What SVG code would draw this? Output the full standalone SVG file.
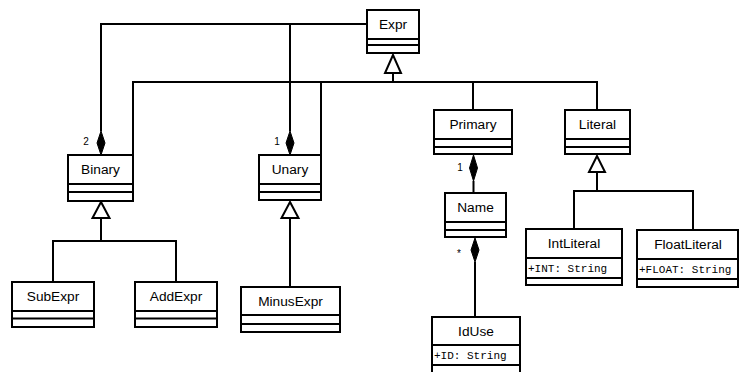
<svg xmlns="http://www.w3.org/2000/svg" width="739" height="372" viewBox="0 0 739 372">
<style>
.box{fill:#fff;stroke:#000;stroke-width:2}
.sep{stroke:#000;stroke-width:2}
.nm{font-family:"Liberation Sans",Arial,sans-serif;font-size:13.7px;text-anchor:middle;fill:#000}
.at{font-family:"Liberation Mono","Courier New",monospace;font-size:11px;fill:#000}
.ln{fill:none;stroke:#000;stroke-width:2}
.tri{fill:#fff;stroke:#000;stroke-width:2}
.dia{fill:#000;stroke:#000;stroke-width:1}
.mul{font-family:"Liberation Sans",Arial,sans-serif;font-size:10px;fill:#000;text-anchor:middle}
</style>
<rect width="739" height="372" fill="#fff"/>
<g id="connectors">
<path class="ln" d="M367,24 H101 V131"/>
<path class="ln" d="M290,24 V131"/>
<path class="ln" d="M393,73 V82"/>
<path class="ln" d="M133,155 V82 H597 V110"/>
<path class="ln" d="M321,155 V82"/>
<path class="ln" d="M473,110 V82"/>
<polygon class="tri" points="393,55 385,73 401,73"/>
<polygon class="dia" points="101,131 105,143 101,155 97,143"/>
<polygon class="dia" points="290,131 294,143 290,155 286,143"/>
<text class="mul" x="86" y="145">2</text>
<text class="mul" x="277" y="145">1</text>
<path class="ln" d="M101,218 V241 M53,282 V241 H176 V282"/>
<polygon class="tri" points="101,202 92.5,218 109.5,218"/>
<path class="ln" d="M290,218 V287"/>
<polygon class="tri" points="290,202 281.5,218 298.5,218"/>
<path class="ln" d="M597,172 V191 M574,229 V191 H693 V230"/>
<polygon class="tri" points="597,156 589,172 605,172"/>
<path class="ln" d="M473.5,181 V193"/>
<polygon class="dia" points="473.5,155 477.5,168 473.5,181 469.5,168"/>
<text class="mul" x="460" y="171">1</text>
<path class="ln" d="M475,262 V317"/>
<polygon class="dia" points="475,238 479,250 475,262 471,250"/>
<text class="mul" x="459" y="257">*</text>
</g>
<g id="Expr">
<rect class="box" x="367" y="10" width="52" height="43"/>
<line class="sep" x1="367" y1="39" x2="419" y2="39"/>
<line class="sep" x1="367" y1="45" x2="419" y2="45"/>
<text class="nm" x="393" y="29">Expr</text>
</g>
<g id="Binary">
<rect class="box" x="68" y="155" width="65" height="46"/>
<line class="sep" x1="68" y1="184" x2="133" y2="184"/>
<line class="sep" x1="68" y1="192" x2="133" y2="192"/>
<text class="nm" x="100.5" y="174">Binary</text>
</g>
<g id="Unary">
<rect class="box" x="259" y="155" width="62" height="45"/>
<line class="sep" x1="259" y1="184" x2="321" y2="184"/>
<line class="sep" x1="259" y1="192" x2="321" y2="192"/>
<text class="nm" x="290" y="174">Unary</text>
</g>
<g id="Primary">
<rect class="box" x="434" y="110" width="78" height="44"/>
<line class="sep" x1="434" y1="139" x2="512" y2="139"/>
<line class="sep" x1="434" y1="147" x2="512" y2="147"/>
<text class="nm" x="473" y="129">Primary</text>
</g>
<g id="Literal">
<rect class="box" x="565" y="110" width="65" height="44"/>
<line class="sep" x1="565" y1="139" x2="630" y2="139"/>
<line class="sep" x1="565" y1="147" x2="630" y2="147"/>
<text class="nm" x="597.5" y="129">Literal</text>
</g>
<g id="Name">
<rect class="box" x="445" y="193" width="61" height="44"/>
<line class="sep" x1="445" y1="222" x2="506" y2="222"/>
<line class="sep" x1="445" y1="230" x2="506" y2="230"/>
<text class="nm" x="475.5" y="212">Name</text>
</g>
<g id="SubExpr">
<rect class="box" x="12" y="282" width="82" height="45"/>
<line class="sep" x1="12" y1="311" x2="94" y2="311"/>
<line class="sep" x1="12" y1="318.5" x2="94" y2="318.5"/>
<text class="nm" x="53" y="301">SubExpr</text>
</g>
<g id="AddExpr">
<rect class="box" x="135" y="282" width="82" height="45"/>
<line class="sep" x1="135" y1="311" x2="217" y2="311"/>
<line class="sep" x1="135" y1="318.5" x2="217" y2="318.5"/>
<text class="nm" x="176" y="301">AddExpr</text>
</g>
<g id="MinusExpr">
<rect class="box" x="241" y="287" width="99" height="45"/>
<line class="sep" x1="241" y1="315" x2="340" y2="315"/>
<line class="sep" x1="241" y1="324" x2="340" y2="324"/>
<text class="nm" x="290.5" y="306">MinusExpr</text>
</g>
<g id="IntLiteral">
<rect class="box" x="526" y="229" width="96" height="56"/>
<line class="sep" x1="526" y1="258" x2="622" y2="258"/>
<line class="sep" x1="526" y1="278" x2="622" y2="278"/>
<text class="nm" x="574" y="248">IntLiteral</text>
<text class="at" x="528" y="272">+INT: String</text>
</g>
<g id="FloatLiteral">
<rect class="box" x="637" y="230" width="101" height="57"/>
<line class="sep" x1="637" y1="259" x2="738" y2="259"/>
<line class="sep" x1="637" y1="279" x2="738" y2="279"/>
<text class="nm" x="688" y="249">FloatLiteral</text>
<text class="at" x="639" y="273">+FLOAT: String</text>
</g>
<g id="IdUse">
<rect class="box" x="432" y="317" width="88" height="58"/>
<line class="sep" x1="432" y1="345" x2="520" y2="345"/>
<line class="sep" x1="432" y1="365" x2="520" y2="365"/>
<text class="nm" x="476" y="336">IdUse</text>
<text class="at" x="434" y="359">+ID: String</text>
</g>
</svg>
